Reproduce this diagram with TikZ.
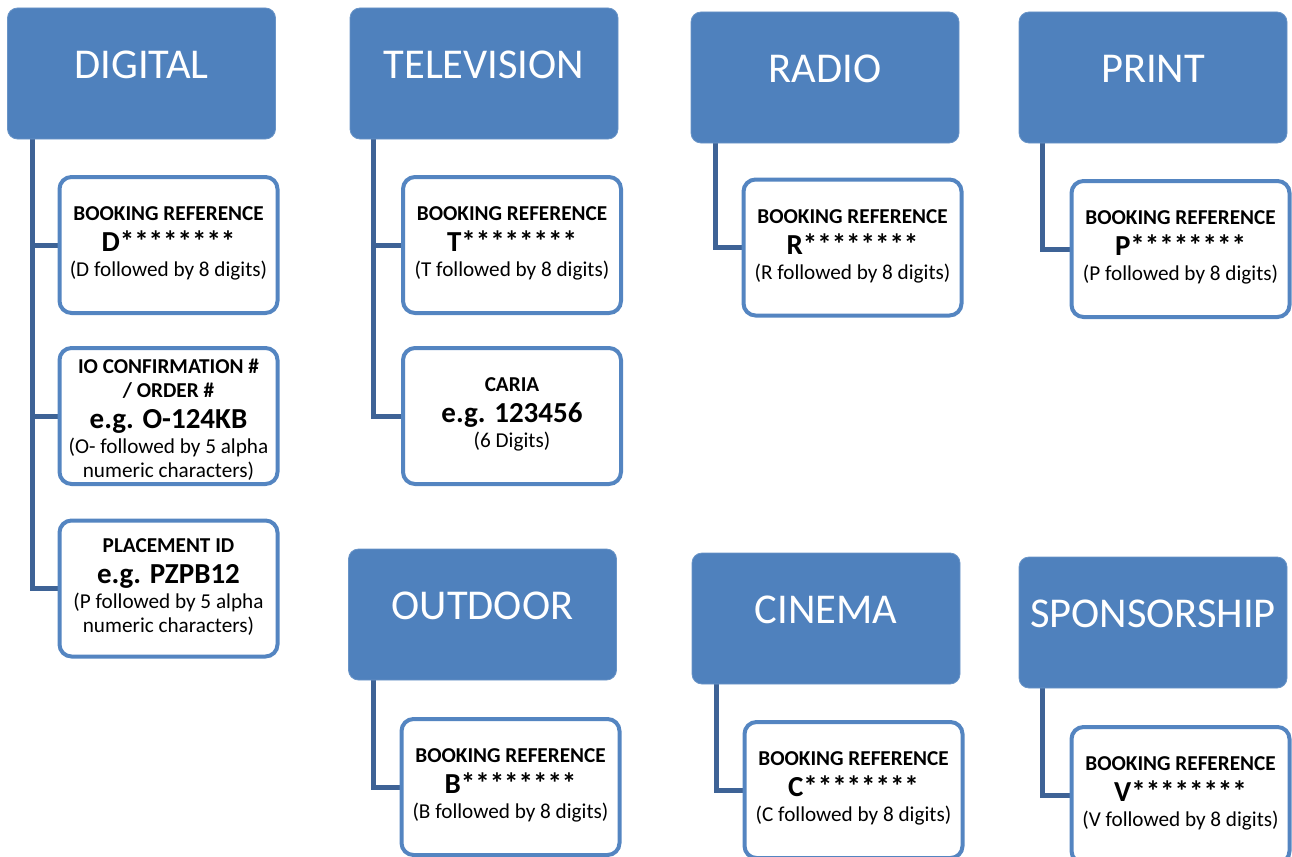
\documentclass[tikz,border=0pt]{standalone}
\usepackage{fontspec}
\setmainfont{Carlito}
\usetikzlibrary{backgrounds}
\definecolor{hdrfill}{RGB}{79,129,189}
\definecolor{boxline}{RGB}{84,133,193}
\definecolor{conncol}{RGB}{62,99,150}
\newcommand{\bigln}[1]{{\fontsize{29}{31}\selectfont\bfseries #1}}
\newcommand{\dn}{\rule[-6pt]{0pt}{6pt}}
\newcommand{\upr}{\rule{0pt}{22pt}}
\begin{document}
\begin{tikzpicture}[x=1pt,y=-1pt,
  hdrbox/.style={rectangle, rounded corners=10pt, fill=hdrfill, draw=hdrfill!85!white, line width=0.8pt,
    minimum width=268pt, minimum height=131pt, inner sep=0pt, text=white,
    font=\fontsize{42.5}{50}\selectfont, text height=27pt, text depth=17pt},
  childbox/.style={rectangle, rounded corners=12pt, draw=boxline, line width=4pt, fill=white,
    minimum width=218pt, minimum height=136pt, inner sep=0pt, align=center,
    font=\fontsize{21.2}{25}\selectfont},
  conn/.style={draw=conncol, line width=5pt},
]
\useasboundingbox (0,0) rectangle (1292,856);
\begin{scope}
\clip (0,0) rectangle (1292,856);
% headers
\node[hdrbox] (dig) at (141.5,73.5) {DIGITAL};
\node[hdrbox] (tv)  at (484,73.5) {TELEVISION};
\node[hdrbox] (rad) at (825,77.5) {RADIO};
\node[hdrbox] (prt) at (1153,77.5) {PRINT};
\node[hdrbox] (out) at (482.5,614.5) {OUTDOOR};
\node[hdrbox] (cin) at (826,618.5) {CINEMA};
\node[hdrbox] (spo) at (1153,622.5) {SPONSORSHIP};
% children
\node[childbox] (d1) at (168.5,245) {\textbf{BOOKING REFERENCE}\\[6pt]\bigln{D********}\\(D followed by 8 digits)\dn};
\node[childbox] (d2) at (168.5,416) {\upr\textbf{IO CONFIRMATION \#}\\[-1pt]\textbf{/ ORDER \#}\\[6pt]\bigln{e.g. O-124KB}\\(O- followed by 5 alpha\\[-1pt]numeric characters)};
\node[childbox] (d3) at (168.5,588.5) {\textbf{PLACEMENT ID}\\[6pt]\bigln{e.g. PZPB12}\\(P followed by 5 alpha\\[-1pt]numeric characters)\dn};
\node[childbox] (t1) at (512,245) {\textbf{BOOKING REFERENCE}\\[6pt]\bigln{T********}\\(T followed by 8 digits)\dn};
\node[childbox] (t2) at (512,416) {\textbf{CARIA}\\[6pt]\bigln{e.g. 123456}\\(6 Digits)\dn};
\node[childbox] (r1) at (852.5,247.5) {\textbf{BOOKING REFERENCE}\\[6pt]\bigln{R********}\\(R followed by 8 digits)\dn};
\node[childbox] (p1) at (1180.5,249) {\textbf{BOOKING REFERENCE}\\[6pt]\bigln{P********}\\(P followed by 8 digits)\dn};
\node[childbox] (o1) at (510.5,787) {\textbf{BOOKING REFERENCE}\\[6pt]\bigln{B********}\\(B followed by 8 digits)\dn};
\node[childbox] (c1) at (853.5,790) {\textbf{BOOKING REFERENCE}\\[6pt]\bigln{C********}\\(C followed by 8 digits)\dn};
\node[childbox] (s1) at (1180.5,795) {\textbf{BOOKING REFERENCE}\\[6pt]\bigln{V********}\\(V followed by 8 digits)\dn};
\end{scope}
% connectors
\begin{scope}[on background layer]
\coordinate (dt) at ([xshift=25pt]dig.south west);
\draw[conn] (dt) |- (d3.west);
\draw[conn] (dt |- d1.west) -- (d1.west);
\draw[conn] (dt |- d2.west) -- (d2.west);
\coordinate (tt) at ([xshift=24pt]tv.south west);
\draw[conn] (tt) |- (t2.west);
\draw[conn] (tt |- t1.west) -- (t1.west);
\coordinate (rt) at ([xshift=25pt]rad.south west);
\draw[conn] (rt) |- (r1.west);
\coordinate (pt) at ([xshift=24pt]prt.south west);
\draw[conn] (pt) |- (p1.west);
\coordinate (ot) at ([xshift=25pt]out.south west);
\draw[conn] (ot) |- (o1.west);
\coordinate (ct) at ([xshift=25pt]cin.south west);
\draw[conn] (ct) |- (c1.west);
\coordinate (st) at ([xshift=24pt]spo.south west);
\draw[conn] (st) |- (s1.west);
\end{scope}
\end{tikzpicture}
\end{document}
